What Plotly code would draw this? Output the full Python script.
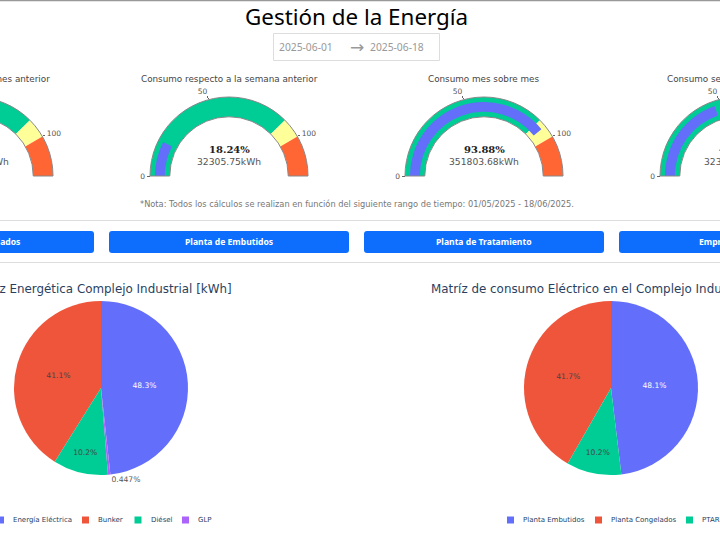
import plotly.graph_objects as go

page_title = "Gestión de la Energía"
date_from = "2025-06-01"
date_to = "2025-06-18"
note = "*Nota: Todos los cálculos se realizan en función del siguiente rango de tiempo: 01/05/2025 - 18/06/2025."

gauge_titles = ["Consumo respecto al mes anterior", "Consumo respecto a la semana anterior",
                "Consumo mes sobre mes", "Consumo semana sobre semana"]
gauge_values = [45.0, 18.24, 93.88, 47.2]
gauge_pct = ["45.00%", "18.24%", "93.88%", "47.20%"]
gauge_kwh = ["351803.68kWh", "32305.75kWh", "351803.68kWh", "323057.50kWh"]
gauge_ticks = [0, 50, 100]
gauge_steps = [(0, 90, "#00cc96"), (90, 100, "#ffff99"), (100, 120, "#ff6633")]

buttons = ["Planta de Congelados", "Planta de Embutidos", "Planta de Tratamiento", "Empresa Completa"]

energy_title = "Matriz Energética Complejo Industrial [kWh]"
energy_labels = ["Energía Eléctrica", "Bunker", "Diésel", "GLP"]
energy_values = [48.3, 41.1, 10.2, 0.447]
energy_colors = ["#636efa", "#EF553B", "#00cc96", "#ab63fa"]

elec_title = "Matríz de consumo Eléctrico en el Complejo Industrial [kWh]"
elec_labels = ["Planta Embutidos", "Planta Congelados", "PTAR"]
elec_values = [48.1, 41.7, 10.2]
elec_colors = ["#636efa", "#EF553B", "#00cc96"]

# The page is wider than the window: it is laid out on a wide canvas and shifted left.
W, H, OFF = 1020, 540, 150
fx = lambda x: (x + OFF) / W
fy = lambda y: 1 - y / H

SANS = "DejaVu Sans"
HEAD = "Noto Sans"
fig = go.Figure()

centers = [-26, 229, 484, 739]
R = 79
BASE = 176
anns = []
for i, c in enumerate(centers):
    fig.add_trace(go.Indicator(
        mode="gauge", value=gauge_values[i],
        domain=dict(x=[fx(c - R), fx(c + R)], y=[fy(BASE), fy(BASE - R)]),
        gauge=dict(
            shape="angular",
            axis=dict(range=[0, 120], tickvals=gauge_ticks, ticktext=[str(t) for t in gauge_ticks],
                      tickwidth=1, ticklen=3, tickcolor="#666",
                      tickfont=dict(family=SANS, size=7.5, color="#555")),
            bar=dict(color="#636efa", thickness=0.5),
            bgcolor="white", borderwidth=1, bordercolor="#888",
            steps=[dict(range=[a, b], color=col) for a, b, col in gauge_steps],
        )))
    anns.append(dict(x=fx(c), y=fy(78.5), text=gauge_titles[i],
                     font=dict(family=SANS, size=8.8, color="#444")))
    anns.append(dict(x=fx(c), y=fy(149), text="<b>%s</b>" % gauge_pct[i],
                     font=dict(family="DejaVu Serif", size=10, color="#222")))
    anns.append(dict(x=fx(c), y=fy(161), text=gauge_kwh[i],
                     font=dict(family=SANS, size=9.2, color="#555")))

outside_font = dict(family=SANS, size=7.6, color="#555")
fig.add_trace(go.Pie(
    labels=energy_labels, values=energy_values, marker=dict(colors=energy_colors),
    sort=False, direction="counterclockwise",
    textinfo="percent", textposition="auto", textfont=dict(family=SANS, size=7.6),
    outsidetextfont=outside_font,
    domain=dict(x=[fx(101 - 87), fx(101 + 87)], y=[fy(475), fy(301)]), showlegend=False))
fig.add_trace(go.Pie(
    labels=elec_labels, values=elec_values, marker=dict(colors=elec_colors),
    sort=False, direction="counterclockwise",
    textinfo="percent", textposition="auto", textfont=dict(family=SANS, size=7.6),
    outsidetextfont=outside_font,
    domain=dict(x=[fx(611 - 87), fx(611 + 87)], y=[fy(475), fy(301)]), showlegend=False))

anns += [
    dict(x=fx(356.5), y=fy(16), text=page_title, font=dict(family=HEAD, size=22.4, color="#000")),
    dict(x=fx(277), y=fy(47), xanchor="left", text=date_from, font=dict(family=HEAD, size=10.3, color="#999")),
    dict(x=fx(357), y=fy(47), text="→", font=dict(family=SANS, size=17, color="#999")),
    dict(x=fx(368), y=fy(47), xanchor="left", text=date_to, font=dict(family=HEAD, size=10.3, color="#999")),
    dict(x=fx(356.5), y=fy(204), text=note, font=dict(family=SANS, size=8.25, color="#777")),
    dict(x=fx(100), y=fy(289), text=energy_title, font=dict(family=SANS, size=11.9, color="#2a3f5f")),
    dict(x=fx(611), y=fy(289), text=elec_title, font=dict(family=SANS, size=11.9, color="#2a3f5f")),
]

def rrect(x0, y0, x1, y1, r):
    a, b, c, d = fx(x0), fx(x1), fy(y0), fy(y1)
    rx, ry = r / W, r / H
    return (f"M {a+rx} {c} L {b-rx} {c} Q {b} {c} {b} {c-ry} L {b} {d+ry} Q {b} {d} {b-rx} {d} "
            f"L {a+rx} {d} Q {a} {d} {a} {d+ry} L {a} {c-ry} Q {a} {c} {a+rx} {c} Z")

shapes = [
    dict(type="line", x0=0, x1=1, y0=fy(0.5), y1=fy(0.5), line=dict(color="#999", width=1.5)),
    dict(type="rect", x0=fx(273.5), x1=fx(439.5), y0=fy(33.5), y1=fy(60.5), line=dict(color="#ddd", width=1)),
    dict(type="line", x0=0, x1=1, y0=fy(220.5), y1=fy(220.5), line=dict(color="#ddd", width=1)),
    dict(type="line", x0=0, x1=1, y0=fy(262.5), y1=fy(262.5), line=dict(color="#ddd", width=1)),
]
for i, c in enumerate(centers):
    shapes.append(dict(type="path", path=rrect(c - 120, 231, c + 120, 253, 3),
                       fillcolor="#0d6efd", line=dict(width=0)))
    anns.append(dict(x=fx(c), y=fy(242), text="<b>%s</b>" % buttons[i],
                     font=dict(family=HEAD, size=8.6, color="white")))

# Legends: small swatches with their labels, left edge of each swatch given in page pixels.
def legend(labels, colors, lefts):
    for lab, col, x in zip(labels, colors, lefts):
        shapes.append(dict(type="rect", x0=fx(x), x1=fx(x + 7), y0=fy(516.5), y1=fy(523.5),
                           fillcolor=col, line=dict(width=0)))
        anns.append(dict(x=fx(x + 14), y=fy(520), xanchor="left", text=lab,
                         font=dict(family=SANS, size=7, color="#2a3f5f")))

legend(energy_labels, energy_colors, [-3, 82, 134.5, 182])
legend(elec_labels, elec_colors, [507, 595, 686])

for a in anns:
    a.update(xref="paper", yref="paper", showarrow=False)
    a.setdefault("xanchor", "center")
    a.setdefault("yanchor", "middle")

fig.update_layout(
    width=W, height=H, margin=dict(l=0, r=0, t=0, b=0), paper_bgcolor="white",
    annotations=anns, shapes=shapes,
)

post = ("document.body.style.margin='0';document.body.style.overflow='hidden';"
        "document.documentElement.style.overflow='hidden';"
        f"document.getElementById('{{plot_id}}').style.marginLeft='-{OFF}px';")
fig.write_html("out.html", post_script=post, default_width=f"{W}px", default_height=f"{H}px",
               config=dict(displayModeBar=False))
